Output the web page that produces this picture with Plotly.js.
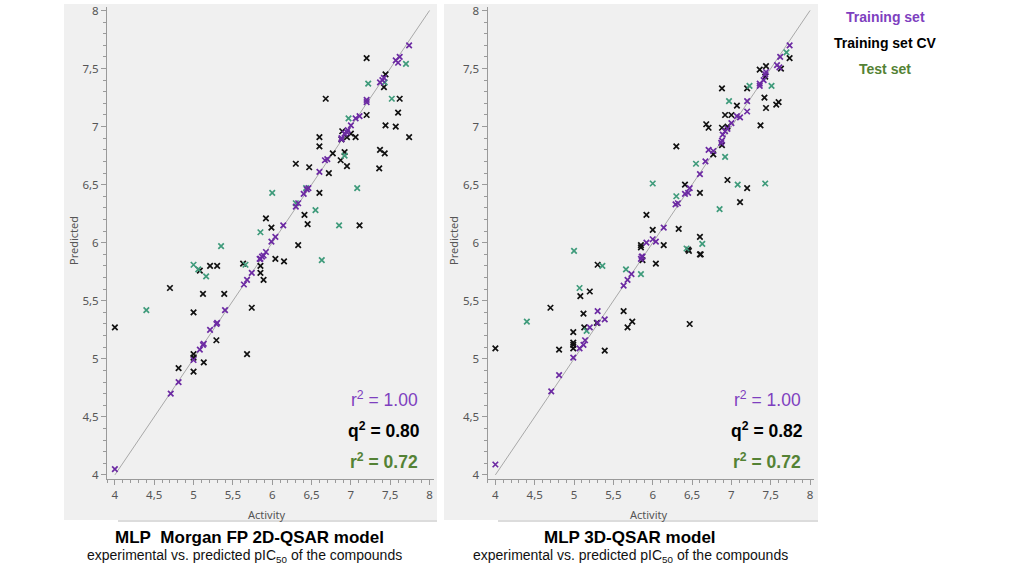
<!DOCTYPE html>
<html lang="en">
<head>
    <meta charset="UTF-8">
    <title>QSAR models</title>
    <script src="https://cdn.plot.ly/plotly-3.0.1.min.js"></script>
    <style>
        body { margin: 0; background: #fff; }
        #plot { width: 1024px; height: 576px; }
    </style>
</head>
<body>
<div id="plot"></div>
<script>
    // 2D-QSAR (Morgan FP) panel
    const trainX2d = [7.74,7.62,7.60,7.57,7.42,7.37,7.40,7.20,7.20,7.11, 7.06,7.00,6.96,6.95,6.92,6.88,6.88,6.70,6.67,6.60,
        6.46,6.44,6.40,6.33,6.30,6.14,6.04,5.99,5.92,5.87, 5.84,5.89,5.85,5.74,5.68,5.64,5.40,5.30,5.29,5.21, 5.13,5.12,5.08,5.00,4.81,4.71,4.00]
    const trainY2d = [7.70,7.60,7.55,7.57,7.42,7.38,7.40,7.23,7.21,7.09, 7.07,7.01,6.97,6.95,6.94,6.90,6.89,6.72,6.71,6.61,
        6.47,6.46,6.42,6.34,6.31,6.15,6.05,6.01,5.92,5.88, 5.86,5.89,5.86,5.74,5.68,5.64,5.42,5.31,5.30,5.25, 5.13,5.12,5.08,4.99,4.80,4.70,4.05]
    const cvX2d = [7.20,6.68,7.42,7.44,7.62,7.60,7.44,7.57,7.74,7.20, 7.06,7.00,6.95,6.89,6.88,6.60,6.60,6.77,6.87,6.92,
        7.37,7.43,7.36,6.95,6.30,6.47,6.72,6.60,6.41,6.45, 7.11,5.92,5.99,6.33,6.04,6.15,5.63,5.85,5.85,5.89,
        5.30,5.21,5.08,4.70,5.12,5.39,5.74,5.00,4.00,5.29, 5.00,5.00,5.68,5.13,4.81,5.00]
    const cvY2d = [7.59,7.24,7.34,7.45,7.24,7.12,7.01,7.00,6.91,7.10, 6.91,6.94,6.91,6.96,6.89,6.91,6.83,6.77,6.71,6.78,
        6.80,6.77,6.64,6.66,6.68,6.65,6.60,6.43,6.24,6.16, 6.15,6.21,6.13,5.98,5.86,5.84,5.82,5.80,5.74,5.68,
        5.80,5.80,5.76,5.61,5.56,5.56,5.44,5.40,5.27,5.16, 5.04,5.01,5.04,4.97,4.92,4.89]
    const testX2d = [7.70,7.22,7.43,7.52,6.97,6.92,7.08,6.00,6.30,6.43, 6.55,6.85,5.85,5.35,6.63,5.00,5.06,5.16,5.66,4.40]
    const testY2d = [7.54,7.37,7.38,7.24,7.07,6.75,6.47,6.43,6.34,6.47, 6.28,6.15,6.09,5.97,5.85,5.81,5.77,5.71,5.81,5.42]

    // 3D-QSAR panel
    const trainX3d = [7.74,7.62,7.58,7.61,7.44,7.43,7.41,7.36,7.36,7.20, 7.20,7.11,7.07,7.00,6.95,6.92,6.89,6.88,6.87,6.71,
        6.77,6.67,6.60,6.47,6.45,6.41,6.32,6.29,6.14,6.00, 6.04,5.92,5.86,5.87,5.85,5.73,5.68,5.63,5.30,5.39,
        5.30,5.20,5.14,5.12,5.07,4.99,4.81,4.71,4.00]
    const trainY3d = [7.70,7.60,7.53,7.51,7.47,7.45,7.40,7.37,7.35,7.22, 7.13,7.08,7.09,7.03,6.98,6.96,6.93,6.88,6.86,6.80,
        6.79,6.70,6.59,6.47,6.43,6.42,6.34,6.33,6.13,6.03, 6.01,6.00,5.88,5.88,5.86,5.73,5.68,5.63,5.41,5.34,
        5.31,5.27,5.16,5.12,5.09,5.01,4.86,4.72,4.09]
    const cvX3d = [6.88,7.20,7.36,7.44,7.43,7.63,7.74,7.42,7.44,7.57, 7.60,7.37,7.07,6.92,7.00,6.95,6.88,6.88,6.77,6.68,
        6.71,6.30,6.41,6.60,6.95,7.20,7.11,5.92,6.00,6.33, 6.14,5.85,5.85,6.60,6.45,6.60,5.87,6.46,6.61,5.30,
        6.04,5.08,5.20,4.70,5.12,5.63,5.29,5.74,5.68,5.13, 4.99,4.99,4.99,4.99,4.81,4.00,5.39,6.47]
    const cvY3d = [7.33,7.33,7.49,7.52,7.43,7.50,7.59,7.25,7.16,7.19, 7.21,7.01,7.18,7.10,7.10,7.00,6.99,6.84,6.76,7.02,
        6.99,6.83,6.50,6.43,6.54,6.47,6.35,6.24,6.11,6.12, 5.98,5.98,5.96,6.05,5.94,5.90,5.85,5.93,5.90,5.81,
        5.82,5.54,5.58,5.44,5.39,5.41,5.31,5.32,5.27,5.27, 5.23,5.14,5.12,5.09,5.08,5.09,5.07,5.30]
    const testX3d = [7.70,7.23,7.51,6.97,6.92,7.08,7.43,6.55,6.30,6.00, 6.85,6.43,6.63,5.00,5.36,5.66,5.85,5.07,5.16,4.40]
    const testY3d = [7.64,7.35,7.35,7.22,6.74,6.50,6.51,6.68,6.40,6.51, 6.29,5.95,5.99,5.93,5.80,5.77,5.73,5.61,5.24,5.32]

    const identityLine = [4, 8]
    const statsLabels2d = ['r<sup>2</sup> = 1.00', '<b>q<sup>2</sup> = 0.80</b>', '<b>r<sup>2</sup> = 0.72</b>']
    const statsLabels3d = ['r<sup>2</sup> = 1.00', '<b>q<sup>2</sup> = 0.82</b>', '<b>r<sup>2</sup> = 0.72</b>']
    const legendLabels = ['Training set', 'Training set CV', 'Test set']
    const panelTitles = ['MLP\u00a0\u00a0Morgan FP 2D-QSAR model', 'MLP 3D-QSAR model']
    const panelSubtitle = 'experimental vs. predicted pIC<sub>50</sub> of the compounds'

    const purple = '#6c2aa3'
    const purpleText = '#7e3fbf'
    const cvBlack = '#111111'
    const teal = '#3f9b7b'
    const greenText = '#548235'

    function pts(x, y, color, xa, ya) {
        return {
            x: x, y: y, xaxis: xa, yaxis: ya,
            mode: 'markers', type: 'scatter',
            marker: {symbol: 'x-thin', size: 5.5, line: {width: 1.7, color: color}, color: color},
            hoverinfo: 'x+y', showlegend: false
        }
    }

    function diag(xa, ya) {
        return {
            x: identityLine, y: identityLine, xaxis: xa, yaxis: ya,
            mode: 'lines', type: 'scatter',
            line: {color: '#a8a8a8', width: 1}, hoverinfo: 'skip', showlegend: false
        }
    }

    const data = [
        diag('x', 'y'),
        pts(cvX2d, cvY2d, cvBlack, 'x', 'y'),
        pts(testX2d, testY2d, teal, 'x', 'y'),
        pts(trainX2d, trainY2d, purple, 'x', 'y'),
        diag('x2', 'y2'),
        pts(cvX3d, cvY3d, cvBlack, 'x2', 'y2'),
        pts(testX3d, testY3d, teal, 'x2', 'y2'),
        pts(trainX3d, trainY3d, purple, 'x2', 'y2'),
    ]

    const W = 1024, H = 576
    const px = v => v / W
    const py = v => 1 - v / H

    function axis(dom, extra) {
        return Object.assign({
            domain: dom,
            showgrid: false, zeroline: false,
            showline: true, linecolor: '#9a9a9a', linewidth: 1,
            ticks: 'outside', ticklen: 5, tickcolor: '#9a9a9a', tickwidth: 1,
            tick0: 4, dtick: 0.5,
            minor: {ticks: 'outside', dtick: 0.1, ticklen: 3, tickcolor: '#9a9a9a'},
            tickfont: {family: 'Noto Sans', size: 11.5, color: '#555'},
            fixedrange: true
        }, extra)
    }

    const font = 'Liberation Sans, Arial, sans-serif'
    const axisTitleFont = {family: 'Noto Sans', size: 11, color: '#555'}
    const ann = []
    function txt(x, y, text, size, color, extra) {
        ann.push(Object.assign({
            xref: 'paper', yref: 'paper', x: px(x), y: py(y),
            xanchor: 'center', yanchor: 'middle', showarrow: false,
            text: text, font: {family: font, size: size, color: color}
        }, extra))
    }

    // axis titles
    txt(267, 514, 'Activity', 11, '#555', {font: axisTitleFont})
    txt(649, 514, 'Activity', 11, '#555', {font: axisTitleFont})
    txt(73, 241, 'Predicted', 11, '#555', {textangle: -90, font: axisTitleFont})
    txt(453, 241, 'Predicted', 11, '#555', {textangle: -90, font: axisTitleFont})

    // statistics
    const statColors = [purpleText, '#000', greenText]
    const statY = [399, 430, 461]
    statsLabels2d.forEach((s, i) => txt(384, statY[i], s, 17.5, statColors[i]))
    statsLabels3d.forEach((s, i) => txt(767, statY[i], s, 17.5, statColors[i]))

    // legend text
    const legColors = [purpleText, '#000', greenText]
    const legY = [17, 43, 69]
    legendLabels.forEach((s, i) => txt(885, legY[i], '<b>' + s + '</b>', 14, legColors[i]))

    // panel titles
    txt(249, 537, '<b>' + panelTitles[0] + '</b>', 17, '#000')
    txt(630, 537, '<b>' + panelTitles[1] + '</b>', 17, '#000')
    txt(244, 556, panelSubtitle, 14, '#111')
    txt(630, 556, panelSubtitle, 14, '#111')

    const shapes = [
        {type: 'rect', xref: 'paper', yref: 'paper', x0: px(64), x1: px(437), y0: py(520), y1: py(4),
            fillcolor: '#f0f0f0', line: {width: 0}, layer: 'below'},
        {type: 'rect', xref: 'paper', yref: 'paper', x0: px(444), x1: px(818), y0: py(520), y1: py(4),
            fillcolor: '#f0f0f0', line: {width: 0}, layer: 'below'},
        {type: 'line', xref: 'paper', yref: 'paper', x0: px(118), x1: px(437), y0: py(521), y1: py(521),
            line: {color: '#dcdcdc', width: 2}, layer: 'below'},
        {type: 'line', xref: 'paper', yref: 'paper', x0: px(498), x1: px(818), y0: py(521), y1: py(521),
            line: {color: '#dcdcdc', width: 2}, layer: 'below'},
    ]

    const layout = {
        width: W, height: H,
        margin: {l: 0, r: 0, t: 0, b: 0},
        paper_bgcolor: '#ffffff',
        plot_bgcolor: '#f0f0f0',
        separators: ', ',
        showlegend: false,
        xaxis: axis([px(107), px(433.5)], {range: [3.9, 8.05], anchor: 'y'}),
        yaxis: axis([py(479), py(7)], {range: [3.965, 8.03], anchor: 'x'}),
        xaxis2: axis([px(487.5), px(814)], {range: [3.9, 8.05], anchor: 'y2'}),
        yaxis2: axis([py(479), py(7)], {range: [3.965, 8.03], anchor: 'x2'}),
        annotations: ann,
        shapes: shapes
    }

    Plotly.newPlot('plot', data, layout, {displayModeBar: false, staticPlot: true})
</script>
</body>
</html>
